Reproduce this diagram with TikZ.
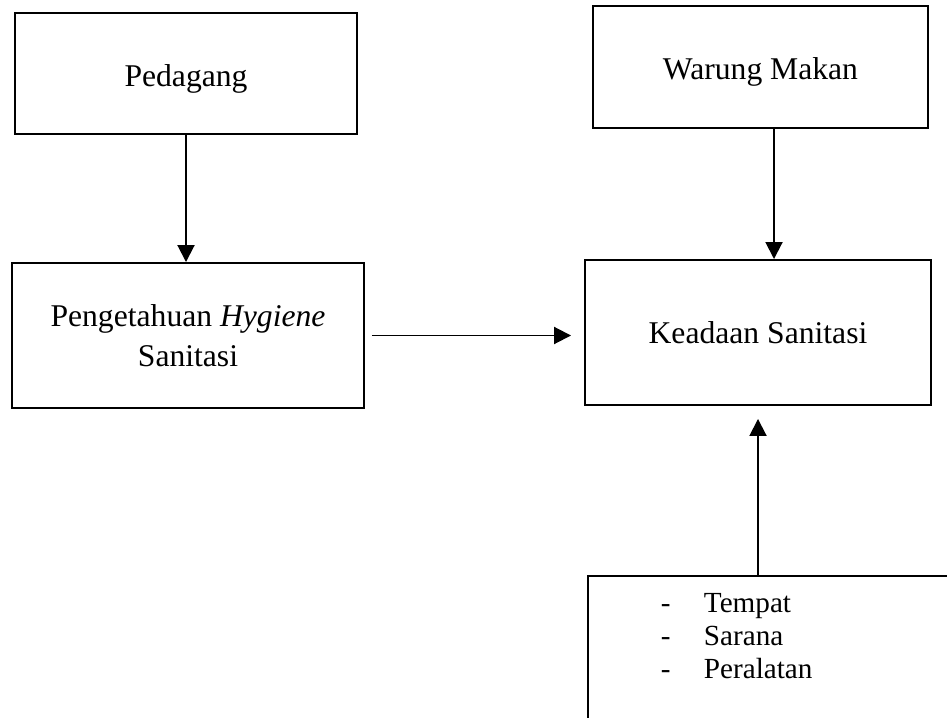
\documentclass[tikz,border=0pt]{standalone}
\usepackage{fontspec}
\setmainfont{Liberation Serif}
\usetikzlibrary{arrows.meta, positioning}

\begin{document}
\begin{tikzpicture}[
    >={Triangle[length=0.34cm,width=0.34cm]},
    line width=1.1pt,
    every node/.style={font=\fontsize{18}{23}\selectfont},
    box/.style={draw,rectangle,align=center,inner sep=0pt},
]
\clip (0,0) rectangle (18.94,-14.36);
% Nodes
\node[box,minimum width=6.84cm,minimum height=2.42cm,text height=0.6cm,text depth=0.08cm] (pedagang) at (3.72,-1.47) {Pedagang};
\node[box,minimum width=7.04cm,minimum height=2.90cm] (tahu) at (3.76,-6.71) {Pengetahuan \textit{Hygiene}\\Sanitasi};
\node[box,minimum width=6.70cm,minimum height=2.44cm,text height=0.6cm,text depth=0.08cm] (warung) at (15.21,-1.34) {Warung Makan};
\node[box,minimum width=6.92cm,minimum height=2.90cm] (keadaan) at (15.16,-6.65) {Keadaan Sanitasi};
\node[draw,anchor=north west,inner xsep=1.46cm,inner ysep=0.28cm,text width=6cm,text depth=4cm,
      font=\fontsize{16.6}{18.7}\selectfont] (sarana) at (11.74,-11.50)
    {\noindent\begin{tabular}[t]{@{}p{0.86cm}@{}l@{}}
     - & Tempat\\
     - & Sarana\\
     - & Peralatan
     \end{tabular}};
% Arrows
\draw[->] (pedagang.south) -- (pedagang.south |- tahu.north);
\draw[->] ([xshift=0.27cm]warung.south) -- ([xshift=0.27cm]warung.south |- keadaan.north);
\draw[->,shorten <=0.14cm,shorten >=0.26cm] (tahu.east) -- (tahu.east -| keadaan.west);
\draw[->,shorten >=0.26cm] (sarana.north -| keadaan.south) -- (keadaan.south);
\end{tikzpicture}
\end{document}
